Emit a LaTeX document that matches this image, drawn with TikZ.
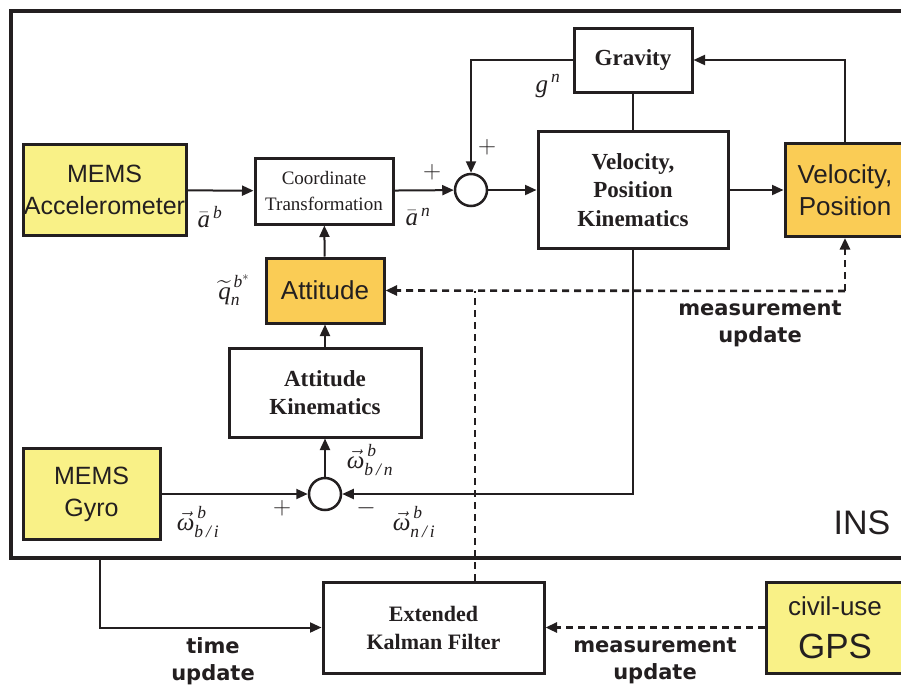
\RequirePackage{fix-cm}
\documentclass[tikz,border=0pt]{standalone}
\usepackage{amsmath}
\usepackage{fontspec}
\setmainfont{Liberation Serif}
\setsansfont{Liberation Sans}
\newfontfamily\updfont{DejaVu Sans}
\newcommand\tit[1]{\text{\itshape #1}}
\usetikzlibrary{arrows.meta}
\definecolor{ylw}{RGB}{249,241,135}
\definecolor{org}{RGB}{250,204,85}
\definecolor{ink}{RGB}{35,31,32}
\tikzset{
 blk/.style={draw=ink, line width=3pt, inner sep=0pt, align=center, text=ink},
 sens/.style={blk, fill=ylw, font=\sffamily\fontsize{25}{32}\selectfont},
 outp/.style={blk, fill=org, font=\sffamily\fontsize{26}{32}\selectfont},
 proc/.style={blk, fill=white, font=\bfseries\fontsize{23}{28.5}\selectfont},
 sumc/.style={circle, draw=ink, line width=2.5pt, minimum size=32pt, inner sep=0pt, fill=white},
 conn/.style={draw=ink, line width=2pt, -{Triangle[length=11.5pt,width=10pt]}},
 wire/.style={draw=ink, line width=2pt},
 dwire/.style={draw=ink, line width=2.6pt, dash pattern=on 7pt off 5pt},
 dconn/.style={dwire, -{Triangle[length=11.5pt,width=10pt]}},
 lbl/.style={text=ink, inner sep=0pt, font=\fontsize{25}{28}\selectfont},
 upd/.style={text=ink, align=center, inner sep=0pt, font=\updfont\bfseries\fontsize{21}{27}\selectfont},
}
\begin{document}
\begin{tikzpicture}[x=1pt,y=-1pt]
\useasboundingbox (0,0) rectangle (901,686);
\clip (0,0) rectangle (901,686);
% INS frame
\node[draw=ink, line width=4pt, minimum width=909pt, minimum height=547pt, inner sep=0pt] (ins) at (465.5,284.5) {};
\node[text=ink, font=\sffamily\fontsize{34}{40}\selectfont, inner sep=0pt] (inslbl) at (862,523) {INS};
% blocks
\node[sens, minimum width=163pt, minimum height=91pt] (acc) at (104.5,190) {MEMS\\Accelerometer};
\node[blk, fill=white, minimum width=138pt, minimum height=66pt, font=\fontsize{19}{26}\selectfont] (ct) at (324,191) {Coordinate\\Transformation};
\node[sumc] (s1) at (471,190) {};
\node[proc, minimum width=118pt, minimum height=64pt] (grav) at (633,60) {Gravity};
\node[proc, minimum width=190pt, minimum height=117pt] (vpk) at (633,190) {Velocity,\\Position\\Kinematics};
\node[outp, minimum width=120pt, minimum height=93pt] (vp) at (845,190) {Velocity,\\Position};
\node[outp, minimum width=118pt, minimum height=65pt] (att) at (325,290.5) {Attitude};
\node[proc, minimum width=192pt, minimum height=89pt] (ak) at (325,392.5) {Attitude\\Kinematics};
\node[sumc] (s2) at (325,494) {};
\node[sens, minimum width=137pt, minimum height=91pt] (gyro) at (91.5,494) {MEMS\\Gyro};
\node[proc, minimum width=221pt, minimum height=91pt, font=\bfseries\fontsize{22}{28}\selectfont] (ekf) at (433.5,627.5) {Extended\\Kalman Filter};
\node[blk, fill=ylw, minimum width=138pt, minimum height=91pt] (gps) at (835,627.5) {};
\node[text=ink, font=\sffamily\fontsize{26}{30}\selectfont, inner sep=0pt] (civ) at (835,606) {civil-use};
\node[text=ink, font=\sffamily\fontsize{35}{40}\selectfont, inner sep=0pt] (gpsl) at (835,646) {GPS};
% helper coordinates
\coordinate (dj) at (845,291);
\coordinate (dk) at (475,291);
\coordinate (tu) at (100,558);
% solid connectors
\draw[conn] (acc) -- (ct);
\draw[conn] (ct) -- (s1);
\draw[conn] (s1) -- (vpk);
\draw[conn] (vpk) -- (vp);
\draw[conn] (grav.west) -| (s1.north);
\draw[wire] (grav.south) -- (vpk.north);
\draw[conn] (vp.north) |- (grav.east);
\draw[conn] (vpk.south) |- (s2.east);
\draw[conn] (gyro.east |- s2) -- (s2.west);
\draw[conn] (s2) -- (ak);
\draw[conn] (ak) -- (att);
\draw[conn] (att) -- (ct);
\draw[conn] (tu) |- (ekf.west);
% dashed connectors
\draw[dwire] (ekf.north -| dk) -- (dk);
\draw[dconn] (dj) -- (att.east);
\draw[dconn] (dj) -- (vp.south);
\draw[dconn] (gps.west) -- (ekf.east);
% labels
\node[lbl] (lab) at (210,217) {$\bar{\tit{a}}^{\,\tit{b}}$};
\node[lbl] (lan) at (418,217) {$\bar{\tit{a}}^{\,\tit{n}}$};
\node[lbl] (p1) at (432,172) {$+$};
\node[lbl] (p2) at (487,147) {$+$};
\node[lbl] (lg) at (548,86) {$\tit{g}^{\,\tit{n}}$};
\node[lbl] (lq) at (234,290) {$\widetilde{\tit{q}}_{\tit{n}}^{\,\tit{b}^{*}}$};
\node[lbl] (lwbn) at (370,460) {$\vec{\tit{ω}}^{\,\tit{b}}_{\tit{b\,/\,n}}$};
\node[lbl] (p3) at (282,508) {$+$};
\node[lbl] (m1) at (366,508) {$-$};
\node[lbl] (lwbi) at (198,522) {$\vec{\tit{ω}}^{\,\tit{b}}_{\tit{b\,/\,i}}$};
\node[lbl] (lwni) at (414,522) {$\vec{\tit{ω}}^{\,\tit{b}}_{\tit{n\,/\,i}}$};
\node[upd] (mu1) at (760,324) {measurement\\update};
\node[upd] (tup) at (213,661) {time\\update};
\node[upd] (mu2) at (655,661) {measurement\\update};
\end{tikzpicture}
\end{document}
